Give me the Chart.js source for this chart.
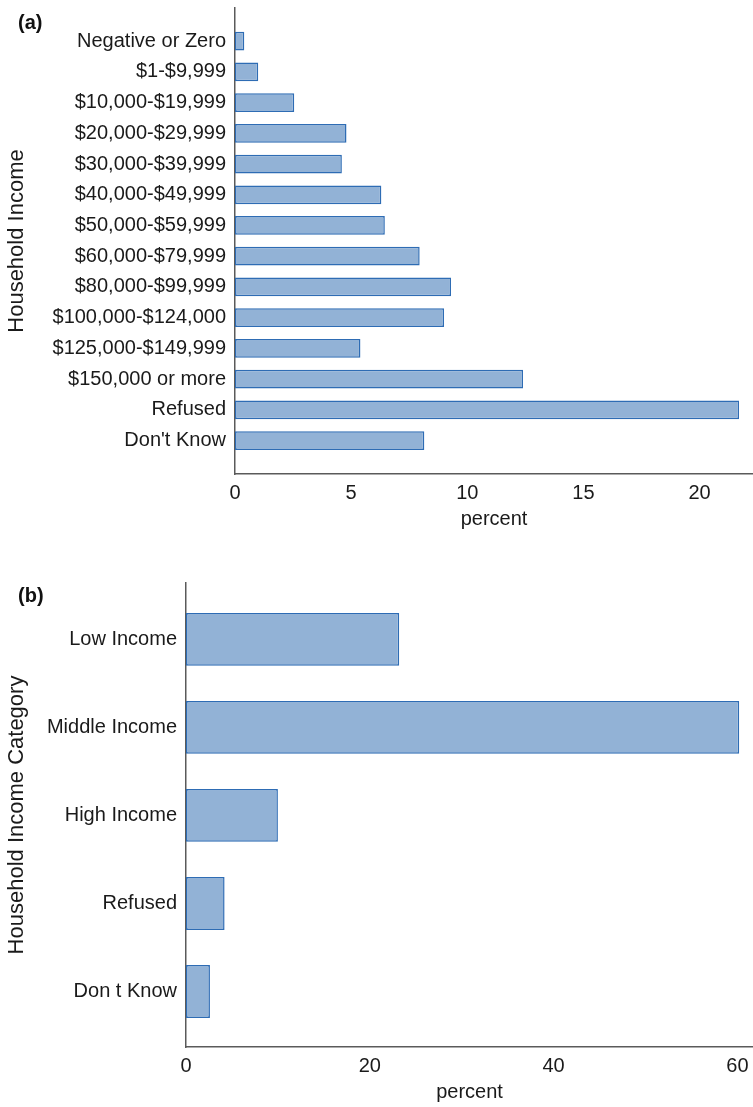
<!DOCTYPE html>
<html>
<head>
<meta charset="utf-8">
<script src="https://cdn.jsdelivr.net/npm/chart.js@4/dist/chart.umd.min.js"></script>
<style>
  body { margin: 0; background: #fff; }
  #page { position: relative; width: 753px; height: 1107px; overflow: hidden; }
  canvas { position: absolute; left: 0; }
  .panel { position: absolute; left: 18px; font: bold 20px "Liberation Sans", Arial, sans-serif; line-height: 20px; color: #111; }
</style>
</head>
<body>
<div id="page">
  <canvas id="chartA" width="753" height="540" style="top:0"></canvas>
  <canvas id="chartB" width="753" height="567" style="top:540px"></canvas>
  <div class="panel" style="top:12px">(a)</div>
  <div class="panel" style="top:585px">(b)</div>
</div>
<script>
// panel (a): detailed income brackets
const incomeLabels = ['Negative or Zero', '$1-$9,999', '$10,000-$19,999', '$20,000-$29,999',
  '$30,000-$39,999', '$40,000-$49,999', '$50,000-$59,999', '$60,000-$79,999', '$80,000-$99,999',
  '$100,000-$124,000', '$125,000-$149,999', '$150,000 or more', 'Refused', "Don't Know"];
const incomePercent = [0.4, 1.0, 2.55, 4.8, 4.6, 6.3, 6.45, 7.95, 9.3, 9.0, 5.4, 12.4, 21.7, 8.15];
const incomeTicks = [0, 5, 10, 15, 20];

// panel (b): income categories
const categoryLabels = ['Low Income', 'Middle Income', 'High Income', 'Refused', 'Don t Know'];
const categoryPercent = [23.2, 60.2, 10.0, 4.2, 2.6];
const categoryTicks = [0, 20, 40, 60];

const FONT = '"Liberation Sans", Arial, sans-serif';
const TEXT = '#1a1a1a';
const AXIS = '#5a5a5a';
const FILL = 'rgb(146,178,214)';
const EDGE = 'rgb(46,108,180)';

Chart.defaults.font.family = FONT;
Chart.defaults.color = TEXT;

function makeChart(id, labels, values, ticks, opt) {
  const ctx = document.getElementById(id).getContext('2d');
  return new Chart(ctx, {
    type: 'bar',
    data: {
      datasets: [{
        data: values.map((v, i) => ({x: v, y: i})),
        backgroundColor: FILL,
        borderColor: EDGE,
        borderWidth: 1.5,
        borderSkipped: false,
        barPercentage: 1,
        categoryPercentage: opt.barFrac,
      }],
    },
    options: {
      indexAxis: 'y',
      responsive: false,
      animation: false,
      layout: {padding: {top: opt.top, bottom: opt.bottom, left: 0, right: 0}},
      plugins: {legend: {display: false}, tooltip: {enabled: false}},
      scales: {
        x: {
          type: 'linear',
          min: 0,
          max: opt.xMax,
          offset: false,
          grid: {display: false, drawTicks: false},
          border: {display: true, color: AXIS, width: 1.5},
          ticks: {padding: 7, font: {size: 20}, color: TEXT},
          afterBuildTicks: (scale) => { scale.ticks = ticks.map((v) => ({value: v})); },
          afterFit: (scale) => { scale.height = 57; scale.paddingLeft = 0; scale.paddingRight = 0; },
          title: {display: true, text: 'percent', font: {size: 20}, color: TEXT, padding: {top: 0, bottom: 0}},
        },
        y: {
          type: 'linear',
          reverse: true,
          min: opt.yMin,
          max: opt.yMax,
          offset: false,
          grid: {display: false, drawTicks: false},
          border: {display: true, color: AXIS, width: 1.5},
          ticks: {padding: 9, font: {size: 20}, color: TEXT, callback: (v) => labels[v]},
          afterBuildTicks: (scale) => { scale.ticks = labels.map((_, i) => ({value: i})); },
          afterFit: (scale) => { scale.width = opt.left; scale.paddingTop = 0; scale.paddingBottom = 0; },
          title: {display: true, text: opt.yTitle, font: {size: 22}, color: TEXT, padding: {top: 4, bottom: 0}},
        },
      },
    },
  });
}

makeChart('chartA', incomeLabels, incomePercent, incomeTicks, {
  top: 8, bottom: 9, left: 235, xMax: 22.3, yMin: -1.08, yMax: 14.09, barFrac: 0.61,
  yTitle: 'Household Income',
});

makeChart('chartB', categoryLabels, categoryPercent, categoryTicks, {
  top: 43, bottom: 3, left: 186, xMax: 61.7, yMin: -0.64, yMax: 4.63, barFrac: 0.6,
  yTitle: 'Household Income Category',
});
</script>
</body>
</html>
